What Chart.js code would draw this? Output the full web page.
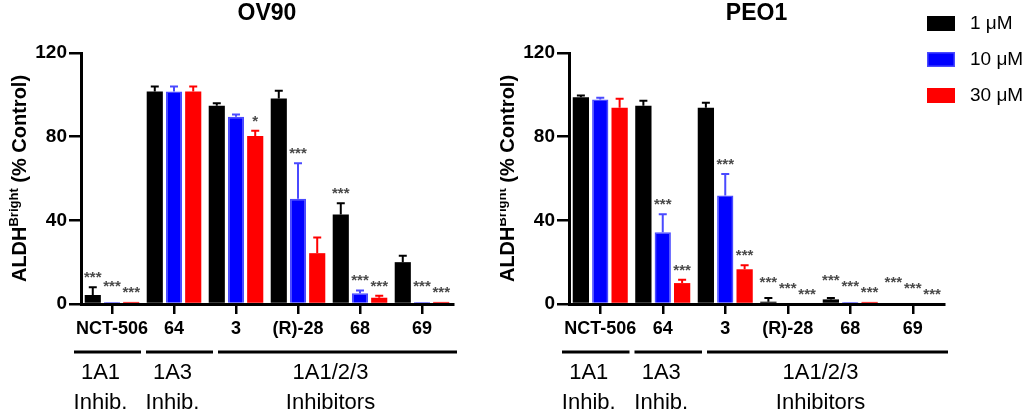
<!DOCTYPE html>
<html>
<head>
<meta charset="utf-8">
<script src="https://cdn.jsdelivr.net/npm/chart.js@4.4.1/dist/chart.umd.min.js"></script>
<style>
  html, body { margin: 0; padding: 0; background: #fff; }
  #wrap { position: relative; width: 1029px; height: 414px; }
  canvas { position: absolute; top: 0; }
</style>
</head>
<body>
<div id="wrap">
  <canvas id="ov90" width="500" height="414" style="left:0px"></canvas>
  <canvas id="peo1" width="529" height="414" style="left:500px"></canvas>
</div>
<script>
const categories = ["NCT-506", "64", "3", "(R)-28", "68", "69"];
const doses = ["1 μM", "10 μM", "30 μM"];
const yTicks = [0, 40, 80, 120];
const groupNames = [["1A1", "Inhib."], ["1A3", "Inhib."], ["1A1/2/3", "Inhibitors"]];
const groupSpans = [1, 1, 4];

// OV90
const ov90_1uM = [4.3, 101.6, 94.8, 98.3, 42.8, 20.0];
const ov90_1uM_err = [3.7, 2.4, 1.2, 3.7, 5.4, 3.1];
const ov90_1uM_sig = ["***", "", "", "", "***", ""];
const ov90_10uM = [1.0, 101.6, 89.5, 50.3, 5.1, 1.0];
const ov90_10uM_err = [0, 2.4, 1.1, 17.0, 1.3, 0];
const ov90_10uM_sig = ["***", "", "", "***", "***", "***"];
const ov90_30uM = [1.0, 101.6, 80.3, 24.3, 3.0, 1.0];
const ov90_30uM_err = [0, 2.4, 2.5, 7.5, 1.0, 0];
const ov90_30uM_sig = ["***", "", "*", "", "***", "***"];

// PEO1
const peo1_1uM = [98.8, 94.8, 93.8, 1.1, 2.2, 0];
const peo1_1uM_err = [0.9, 2.4, 2.4, 1.8, 0.7, 0];
const peo1_1uM_sig = ["", "", "", "***", "***", "***"];
const peo1_10uM = [97.8, 34.3, 51.9, 0, 1.0, 0];
const peo1_10uM_err = [0.8, 8.6, 10.3, 0, 0, 0];
const peo1_10uM_sig = ["", "***", "***", "***", "***", "***"];
const peo1_30uM = [93.8, 10.0, 16.6, 0, 1.0, 0];
const peo1_30uM_err = [4.3, 1.6, 1.9, 0, 0, 0];
const peo1_30uM_sig = ["", "***", "***", "***", "***", "***"];

const fills = ["#000000", "#0000ff", "#ff0000"];
const edges = ["#000000", "#4a4aff", "#ff0000"];

function makeDatasets(values, errs, sigs) {
    return values.map((v, k) => ({
        label: doses[k],
        data: v,
        errors: errs[k],
        stars: sigs[k],
        backgroundColor: fills[k],
        borderColor: edges[k],
        borderWidth: k === 1 ? 1.5 : 0,
        categoryPercentage: 0.93,
        barPercentage: 0.84
    }));
}

const decor = {
    id: "decor",
    afterDatasetsDraw(chart) {
        const ctx = chart.ctx;
        const y = chart.scales.y;
        const sets = chart.data.datasets;
        // error bars
        sets.forEach((ds, di) => {
            chart.getDatasetMeta(di).data.forEach((bar, i) => {
                const v = ds.data[i], e = ds.errors[i];
                if (e <= 0) return;
                const top = y.getPixelForValue(v + e);
                ctx.save();
                ctx.strokeStyle = ds.borderColor;
                ctx.lineWidth = 2;
                ctx.beginPath();
                ctx.moveTo(bar.x, y.getPixelForValue(v));
                ctx.lineTo(bar.x, top);
                ctx.moveTo(bar.x - 4, top);
                ctx.lineTo(bar.x + 4, top);
                ctx.stroke();
                ctx.restore();
            });
        });
        // significance stars, stepped upward from right to left when they crowd
        ctx.save();
        ctx.fillStyle = "#4a4a4a";
        ctx.font = "bold 15px 'Liberation Sans', Arial";
        ctx.textAlign = "center";
        ctx.textBaseline = "alphabetic";
        categories.forEach((c, i) => {
            let prev = null;
            for (let di = sets.length - 1; di >= 0; di--) {
                const ds = sets[di];
                if (!ds.stars[i]) { prev = null; continue; }
                const bar = chart.getDatasetMeta(di).data[i];
                let base = y.getPixelForValue(ds.data[i] + ds.errors[i]) - 5;
                if (prev !== null && base > prev - 6) base = prev - 6;
                ctx.fillText(ds.stars[i], bar.x, base);
                prev = base;
            }
        });
        ctx.restore();
    },
    afterDraw(chart, args, opts) {
        const ctx = chart.ctx;
        const area = chart.chartArea;
        ctx.save();
        ctx.fillStyle = "#000";
        // title
        ctx.font = "bold 23px 'Liberation Sans', Arial";
        ctx.textAlign = "center";
        ctx.textBaseline = "middle";
        ctx.fillText(opts.title, (area.left + area.right) / 2, 14);

        // y axis title with superscript
        ctx.save();
        ctx.translate(area.left - 62, (area.top + area.bottom) / 2);
        ctx.rotate(-Math.PI / 2);
        ctx.textAlign = "left";
        ctx.textBaseline = "alphabetic";
        const big = "bold 20px 'Liberation Sans', Arial";
        const small = "bold 13px 'Liberation Sans', Arial";
        const parts = [["ALDH", big, 0], ["Bright", small, -8], [" (% Control)", big, 0]];
        let total = 0;
        parts.forEach(p => { ctx.font = p[1]; total += ctx.measureText(p[0]).width; });
        let px = -total / 2;
        parts.forEach(p => {
            ctx.font = p[1];
            ctx.fillText(p[0], px, 7 + p[2]);
            px += ctx.measureText(p[0]).width;
        });
        ctx.restore();

        // compound groups under the axis
        const w = (area.right - area.left) / categories.length;
        let x0 = area.left - 7;
        ctx.strokeStyle = "#000";
        ctx.lineWidth = 3;
        ctx.font = "22px 'Liberation Sans', Arial";
        ctx.textAlign = "center";
        ctx.textBaseline = "middle";
        groupSpans.forEach((span, g) => {
            const last = g === groupSpans.length - 1;
            const x1 = last ? area.right + 4 : x0 + span * w + 5;
            ctx.beginPath();
            ctx.moveTo(x0, 352);
            ctx.lineTo(x1, 352);
            ctx.stroke();
            const cx = (x0 + x1) / 2 - 7;
            ctx.fillText(groupNames[g][0], cx, 373);
            ctx.fillText(groupNames[g][1], cx, 403);
            x0 = x1 + 5;
        });

        // legend
        if (opts.legend) {
            ctx.font = "19px 'Liberation Sans', Arial";
            ctx.textAlign = "left";
            chart.data.datasets.forEach((ds, k) => {
                const by = 16 + k * 36;
                const bx = area.right - 17;
                ctx.fillStyle = ds.backgroundColor;
                ctx.fillRect(bx, by, 28, 15);
                if (ds.borderWidth) {
                    ctx.strokeStyle = ds.borderColor;
                    ctx.lineWidth = 1.5;
                    ctx.strokeRect(bx + 0.75, by + 0.75, 26.5, 13.5);
                }
                ctx.fillStyle = "#000";
                ctx.fillText(ds.label, bx + 43, by + 8);
            });
        }
        ctx.restore();
    }
};

function makeChart(id, title, datasets, axisWidth, rightPad, legend) {
    return new Chart(id, {
        type: "bar",
        data: { labels: categories, datasets: datasets },
        plugins: [decor],
        options: {
            responsive: false,
            animation: false,
            devicePixelRatio: 1,
            layout: { padding: { top: 53, right: rightPad, left: 0, bottom: 0 } },
            scales: {
                x: {
                    grid: { offset: false, drawOnChartArea: false, tickLength: 10, lineWidth: 2.5, color: "#000" },
                    border: { display: true, width: 3, color: "#000" },
                    ticks: {
                        color: "#000",
                        font: { family: "'Liberation Sans', Arial", size: 18, weight: "bold" },
                        padding: 4,
                        maxRotation: 0,
                        autoSkip: false
                    },
                    afterFit: s => { s.height = 110; }
                },
                y: {
                    min: yTicks[0],
                    max: yTicks[yTicks.length - 1],
                    grid: { drawOnChartArea: false, tickLength: 12, lineWidth: 2.5, color: "#000" },
                    border: { display: true, width: 3, color: "#000" },
                    ticks: {
                        stepSize: yTicks[1] - yTicks[0],
                        color: "#000",
                        padding: 2,
                        font: { family: "'Liberation Sans', Arial", size: 19, weight: "bold" }
                    },
                    afterFit: s => { s.width = axisWidth; }
                }
            },
            plugins: {
                legend: { display: false },
                title: { display: false },
                tooltip: { enabled: false },
                decor: { title: title, legend: legend }
            }
        }
    });
}

makeChart("ov90", "OV90",
    makeDatasets([ov90_1uM, ov90_10uM, ov90_30uM],
                 [ov90_1uM_err, ov90_10uM_err, ov90_30uM_err],
                 [ov90_1uM_sig, ov90_10uM_sig, ov90_30uM_sig]),
    81, 47, false);

makeChart("peo1", "PEO1",
    makeDatasets([peo1_1uM, peo1_10uM, peo1_30uM],
                 [peo1_1uM_err, peo1_10uM_err, peo1_30uM_err],
                 [peo1_1uM_sig, peo1_10uM_sig, peo1_30uM_sig]),
    69, 85, true);
</script>
</body>
</html>
